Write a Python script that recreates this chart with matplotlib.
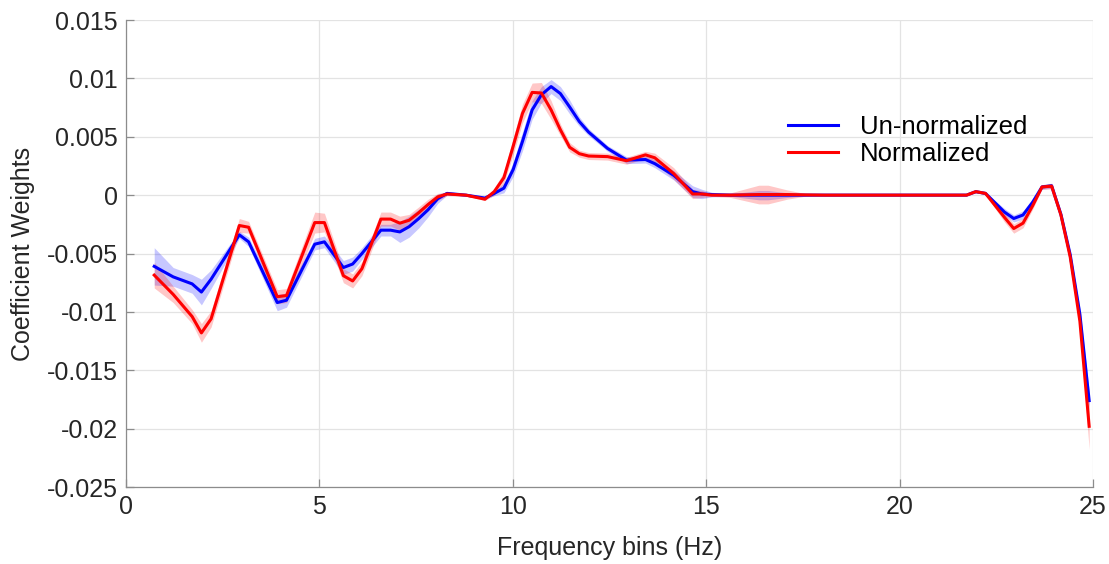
import numpy as np
import matplotlib
matplotlib.use('Agg')
import matplotlib.pyplot as plt

plt.rcParams['font.family'] = ['Liberation Sans', 'DejaVu Sans']
plt.rcParams['axes.unicode_minus'] = False

# frequency bins (Hz) where the curves change direction
freq = [0.73, 1.22, 1.71, 1.95, 2.20, 2.93, 3.17, 3.91, 4.15, 4.88,
        5.13, 5.62, 5.86, 6.10, 6.59, 6.84, 7.08, 7.32, 7.57, 7.81,
        8.06, 8.30, 8.79, 9.28, 9.52, 9.77, 10.01, 10.25, 10.50, 10.74,
        10.99, 11.23, 11.47, 11.72, 11.96, 12.45, 12.94, 13.43, 13.67, 14.16,
        14.65, 14.89, 15.14, 15.63, 16.36, 16.60, 17.09, 17.58, 18.07, 21.73,
        21.97, 22.22, 22.71, 22.95, 23.19, 23.44, 23.68, 23.93, 24.17, 24.41,
        24.66, 24.90]

# weights in units of 1e-3
unnorm = [-6.1, -7.0, -7.6, -8.3, -7.2, -3.4, -4.0, -9.2, -9.0, -4.2,
          -4.0, -6.2, -5.9, -5.0, -3.0, -3.0, -3.15, -2.7, -2.0, -1.25,
          -0.3, 0.15, 0.0, -0.25, 0.15, 0.6, 2.2, 4.6, 7.3, 8.6,
          9.3, 8.7, 7.55, 6.3, 5.4, 4.0, 3.0, 3.05, 2.7, 1.7,
          0.3, 0.1, 0.05, 0.0, 0.0, 0.0, 0.0, 0.0, 0.0, 0.0,
          0.3, 0.15, -1.45, -2.0, -1.7, -0.6, 0.7, 0.8, -1.65, -5.1,
          -10.2, -17.6]
unnorm_sd = [1.6, 0.8, 0.8, 1.1, 0.8, 0.3, 0.4, 0.7, 0.6, 0.5,
             0.5, 0.6, 0.6, 0.5, 0.5, 0.5, 0.9, 0.9, 0.8, 0.6,
             0.4, 0.15, 0.1, 0.1, 0.2, 0.4, 0.6, 0.8, 0.8, 0.7,
             0.6, 0.6, 0.6, 0.4, 0.3, 0.25, 0.3, 0.3, 0.35, 0.4,
             0.5, 0.4, 0.2, 0.1, 0.4, 0.4, 0.2, 0.05, 0.02, 0.02,
             0.1, 0.1, 0.3, 0.3, 0.35, 0.3, 0.2, 0.2, 0.2, 0.3,
             0.5, 0.8]

norm = [-6.85, -8.5, -10.4, -11.8, -10.6, -2.6, -2.75, -8.7, -8.6, -2.35,
        -2.35, -6.9, -7.35, -6.3, -2.05, -2.05, -2.4, -2.15, -1.5, -0.8,
        -0.15, 0.1, 0.0, -0.35, 0.3, 1.5, 4.2, 7.0, 8.8, 8.75,
        7.3, 5.6, 4.1, 3.55, 3.35, 3.3, 2.95, 3.45, 3.2, 1.85,
        0.1, 0.1, 0.0, 0.0, 0.05, 0.05, 0.05, 0.02, 0.0, 0.0,
        0.3, 0.15, -1.9, -2.86, -2.4, -0.9, 0.7, 0.77, -1.7, -5.3,
        -10.8, -19.8]
norm_sd = [1.1, 0.7, 0.6, 0.8, 0.7, 0.6, 0.5, 0.6, 0.6, 0.9,
           0.8, 0.6, 0.6, 0.6, 0.6, 0.6, 0.6, 0.5, 0.5, 0.45,
           0.3, 0.15, 0.1, 0.1, 0.3, 0.5, 0.7, 0.8, 0.8, 0.9,
           0.8, 0.5, 0.4, 0.3, 0.3, 0.3, 0.3, 0.3, 0.4, 0.5,
           0.4, 0.3, 0.1, 0.2, 0.8, 0.8, 0.4, 0.1, 0.02, 0.02,
           0.1, 0.1, 0.4, 0.4, 0.4, 0.3, 0.2, 0.25, 0.2, 0.3,
           0.5, 2.0]

yticks = [0.015, 0.01, 0.005, 0, -0.005, -0.01, -0.015, -0.02, -0.025]
yticklabels = ['0.015', '0.01', '0.005', '0', '-0.005', '-0.01', '-0.015', '-0.02', '-0.025']
xticks = [0, 5, 10, 15, 20, 25]

x = np.array(freq)
series = [
    ('Un-normalized', np.array(unnorm) * 1e-3, np.array(unnorm_sd) * 1e-3, '#0000ff'),
    ('Normalized', np.array(norm) * 1e-3, np.array(norm_sd) * 1e-3, '#ff0000'),
]

fig = plt.figure(figsize=(11.09, 5.64), dpi=100)
ax = fig.add_axes([0.1136, 0.1365, 0.872, 0.828])

for label, m, sd, c in series:
    ax.fill_between(x, m - sd, m + sd, color=c, alpha=0.22, linewidth=0)
for label, m, sd, c in series:
    ax.plot(x, m, color=c, lw=2.2, label=label)

ax.set_xlim(0, 25)
ax.set_ylim(-0.025, 0.015)
ax.set_xticks(xticks)
ax.set_yticks(yticks)
ax.set_yticklabels(yticklabels)
ax.grid(True, color='#e3e3e3', lw=0.9)
ax.set_axisbelow(True)

for s in ['top', 'right']:
    ax.spines[s].set_visible(False)
for s in ['left', 'bottom']:
    ax.spines[s].set_color('#8c8c8c')
    ax.spines[s].set_linewidth(0.9)
ax.tick_params(direction='in', length=6, width=0.9, color='#8c8c8c',
               labelsize=18, labelcolor='#262626', pad=6)

ax.set_xlabel('Frequency bins (Hz)', fontsize=18, color='#262626', labelpad=12)
ax.set_ylabel('Coefficient Weights', fontsize=18, color='#262626', labelpad=8)

ax.legend(loc='center left', bbox_to_anchor=(0.6846, 0.742), frameon=False,
          fontsize=18.5, handlelength=1.95, handletextpad=0.85,
          labelspacing=0.1, borderpad=0, borderaxespad=0)

fig.savefig('out.png', dpi=100)
